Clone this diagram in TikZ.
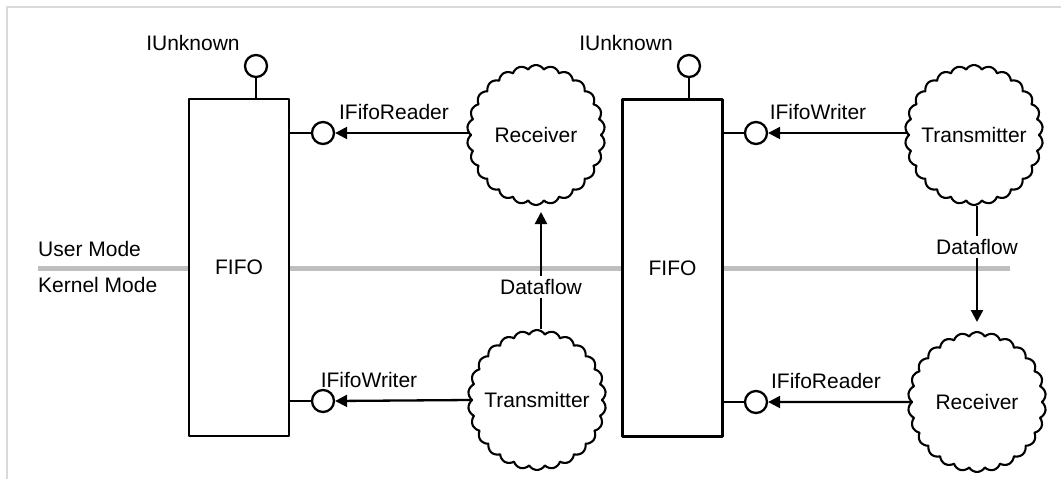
\documentclass[tikz,border=0pt]{standalone}
\usepackage{fontspec}
\setmainfont{Liberation Sans}
\usetikzlibrary{shapes.symbols,arrows.meta}
\tikzset{
  lbl/.style={font=\fontsize{21}{25}\selectfont, inner sep=1pt},
  fifobox/.style={draw, fill=white, line width=2.3pt, minimum width=100pt, minimum height=337pt, inner sep=0pt, font=\fontsize{21}{25}\selectfont},
  lolly/.style={draw, fill=white, circle, line width=2.3pt, minimum size=22pt, inner sep=0pt},
  cloudnode/.style={cloud, cloud puffs=26, cloud puff arc=120, aspect=1, draw, fill=white, line width=2.1pt, minimum width=138pt, minimum height=140pt, inner sep=0pt},
  conn/.style={line width=2.3pt},
  arr/.style={line width=2.3pt, -{Triangle[length=12pt,width=12pt]}},
  flowlbl/.style={lbl, fill=white, inner sep=3pt},
  band/.style={line width=5pt, color=black!25},
  frame/.style={line width=1.5pt, color=black!15}
}
\begin{document}
\begin{tikzpicture}[x=1pt,y=-1pt, line join=round]
\useasboundingbox (0,0) rectangle (1061,479);
% frame
\draw[frame] (7,479) -- (7,7) -- (1061,7);
% mode band
\coordinate (bandL) at (38,268);
\coordinate (bandR) at (1010,268);
\draw[band] (bandL) -- (bandR);
\node[lbl, anchor=west] (user) at (37,249) {User Mode};
\node[lbl, anchor=west] (kernel) at (37,285) {Kernel Mode};
% boxes
\node[fifobox] (fifo1) at (239,267.5) {FIFO};
\node[fifobox] (fifo2) at (672.5,268) {FIFO};
% IUnknown lollipops
\node[lolly] (iu1) at (256,66) {};
\node[lolly] (iu2) at (689,66) {};
\draw[conn] (iu1.south) -- (iu1.south |- fifo1.north);
\draw[conn] (iu2.south) -- (iu2.south |- fifo2.north);
\node[lbl] (iu1l) at (193,43) {IUnknown};
\node[lbl] (iu2l) at (626,43) {IUnknown};
% side lollipops
\node[lolly] (r1) at (323,133) {};
\node[lolly] (w1) at (323,401) {};
\node[lolly] (w2) at (756,133) {};
\node[lolly] (r2) at (756,402) {};
\draw[conn] (r1.west) -- (r1.west -| fifo1.east);
\draw[conn] (w1.west) -- (w1.west -| fifo1.east);
\draw[conn] (w2.west) -- (w2.west -| fifo2.east);
\draw[conn] (r2.west) -- (r2.west -| fifo2.east);
\node[lbl] (r1l) at (394,112) {IFifoReader};
\node[lbl] (w1l) at (369,380) {IFifoWriter};
\node[lbl] (w2l) at (818,112) {IFifoWriter};
\node[lbl] (r2l) at (826,381) {IFifoReader};
% clouds
\node[cloudnode] (rx1) at (536,135) {};
\node[cloudnode] (tx1) at (537,400) {};
\node[cloudnode] (tx2) at (974,135) {};
\node[cloudnode] (rx2) at (977,402) {};
\node[lbl] (rx1t) at (rx1.center) {Receiver};
\node[lbl] (tx1t) at (tx1.center) {Transmitter};
\node[lbl] (tx2t) at (tx2.center) {Transmitter};
\node[lbl] (rx2t) at (rx2.center) {Receiver};
% horizontal arrows
\draw[arr] (rx1.west |- r1) -- (r1.east);
\draw[arr] (tx1.west) -- (w1.east);
\draw[arr] (tx2.west |- w2) -- (w2.east);
\draw[arr] (rx2.west) -- (r2.east);
% dataflow
\coordinate (tip1) at (541,212);
\coordinate (tip2) at (977,322);
\draw[arr] (tx1.north -| tip1) -- (tip1);
\draw[arr] (tx2.south -| tip2) -- (tip2);
\node[flowlbl] (df1) at (541,287) {Dataflow};
\node[flowlbl] (df2) at (977,247) {Dataflow};
\end{tikzpicture}
\end{document}
